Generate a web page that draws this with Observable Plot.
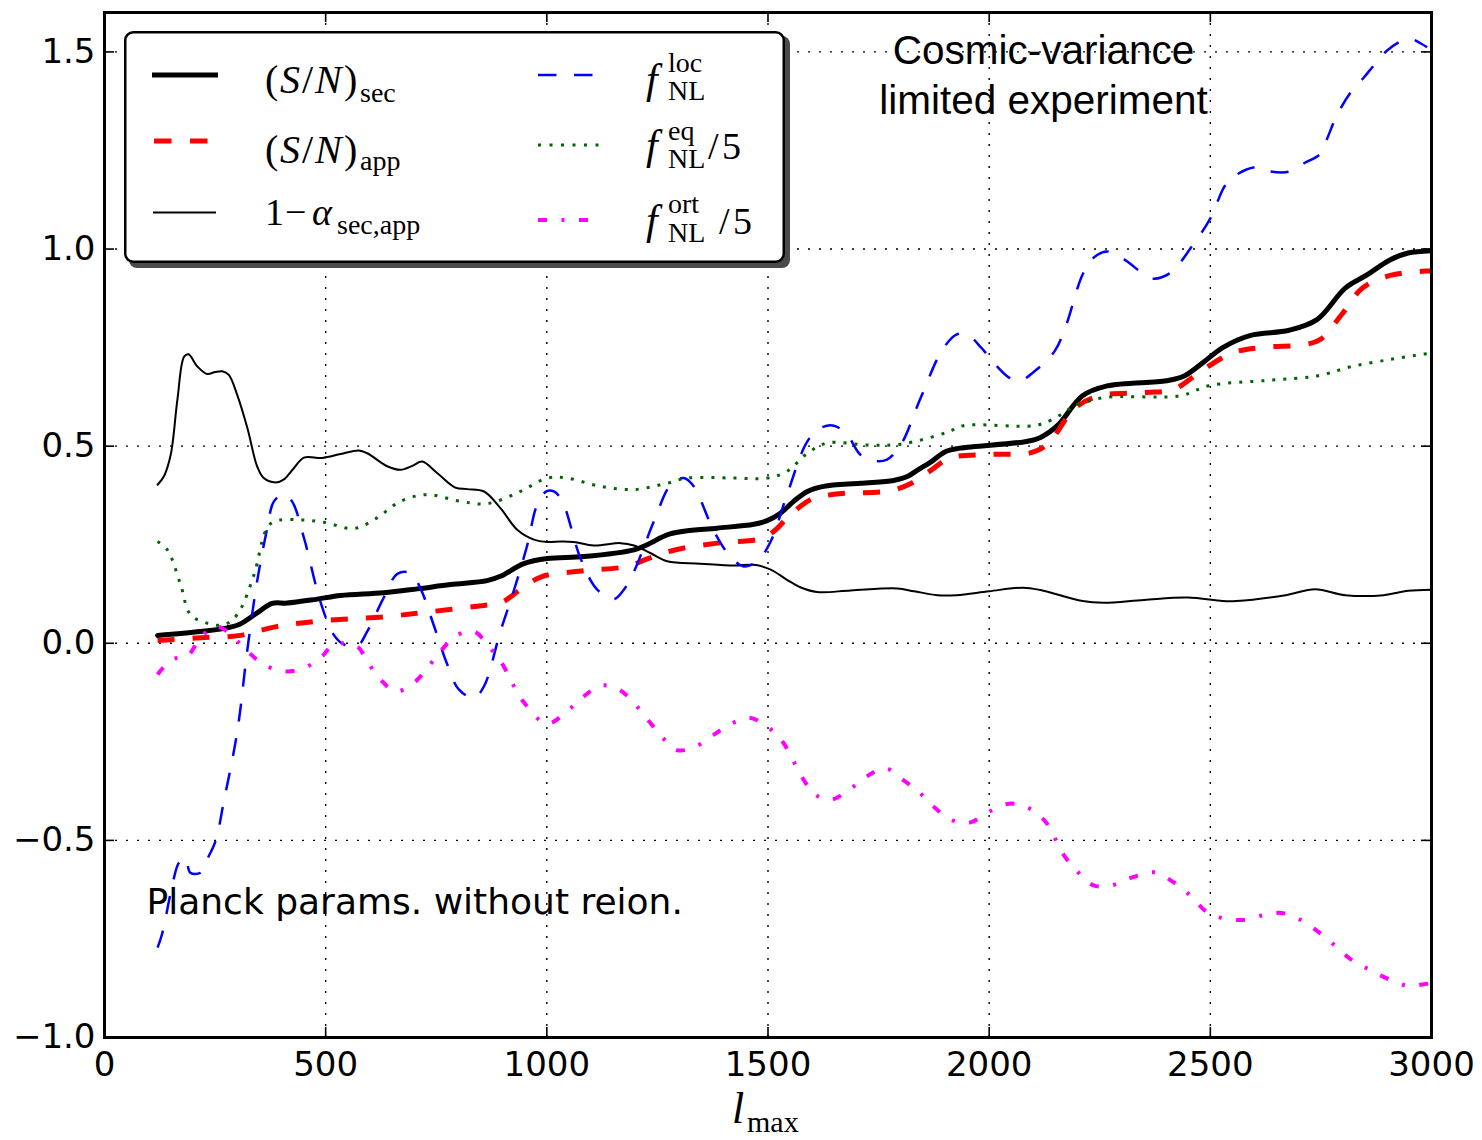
<!DOCTYPE html>
<html>
<head>
<meta charset="utf-8">
<script src="https://cdn.jsdelivr.net/npm/d3@7"></script>
<script src="https://cdn.jsdelivr.net/npm/@observablehq/plot@0.6"></script>
<style>
  body { margin: 0; background: #fff; }
  #wrap { position: relative; width: 1482px; height: 1140px; overflow: hidden; background: #fff; }
  #overlay { position: absolute; left: 0; top: 0; pointer-events: none; }
  .serif { font-family: "Liberation Serif", "DejaVu Serif", serif; }
</style>
</head>
<body>
<div id="wrap"></div>
<script>
// ---------- data ----------
const xTicks = [0, 500, 1000, 1500, 2000, 2500, 3000];
const yTicks = [-1.0, -0.5, 0.0, 0.5, 1.0, 1.5];

// (S/N)_sec  (thick black)
const lSec = [120,217,277,307,345,379,413,481,534,631,707,782,865,895,948,1001,1084,1197,1227,1272,1310,1385,1468,1498,1528,1558,1589,1626,1709,1784,1815,1839,1867,1903,1934,2085,2116,2156,2211,2267,2401,2441,2488,2528,2591,2678,2741,2805,2852,2907,2947,3000];
const snSec = [0.020,0.030,0.039,0.049,0.077,0.101,0.102,0.112,0.121,0.128,0.138,0.149,0.159,0.170,0.202,0.215,0.220,0.237,0.250,0.275,0.284,0.292,0.302,0.311,0.330,0.360,0.385,0.398,0.406,0.413,0.423,0.440,0.459,0.487,0.495,0.512,0.522,0.554,0.628,0.653,0.666,0.678,0.716,0.750,0.781,0.794,0.821,0.901,0.933,0.973,0.990,0.996];

// (S/N)_app  (red dashed)
const lApp = [120,217,307,383,481,631,744,858,895,940,986,1084,1182,1227,1287,1385,1483,1513,1551,1596,1649,1777,1824,1870,1911,1998,2093,2132,2195,2251,2354,2417,2480,2551,2623,2710,2749,2797,2844,2907,2987,3000];
const snApp = [0.007,0.014,0.020,0.041,0.056,0.067,0.081,0.096,0.102,0.136,0.168,0.184,0.195,0.214,0.236,0.254,0.265,0.284,0.326,0.364,0.378,0.387,0.406,0.440,0.470,0.479,0.483,0.505,0.598,0.628,0.636,0.644,0.691,0.737,0.751,0.757,0.771,0.834,0.901,0.933,0.944,0.944];

// 1 - alpha_{sec,app}  (thin black)
const lAlpha = [120,135,150,165,180,190,210,232,250,266,281,300,323,345,360,387,405,428,451,492,534,575,594,639,669,696,718,752,793,820,858,895,933,971,1001,1031,1061,1106,1167,1197,1234,1272,1347,1423,1468,1506,1543,1573,1611,1687,1792,1830,1883,1926,2000,2077,2116,2211,2259,2350,2449,2528,2559,2670,2737,2805,2892,2947,3000];
const oneMinusAlpha = [0.402,0.425,0.480,0.620,0.727,0.733,0.702,0.683,0.688,0.690,0.681,0.630,0.546,0.449,0.419,0.408,0.415,0.444,0.471,0.470,0.480,0.489,0.482,0.449,0.440,0.450,0.461,0.432,0.395,0.391,0.385,0.343,0.288,0.263,0.257,0.258,0.257,0.248,0.254,0.248,0.229,0.208,0.202,0.197,0.199,0.187,0.161,0.142,0.130,0.134,0.139,0.132,0.122,0.122,0.132,0.141,0.135,0.107,0.103,0.110,0.116,0.107,0.107,0.122,0.137,0.122,0.122,0.133,0.136];

// f_NL^loc  (blue dashed)
const lLoc = [120,130,157,168,183,194,217,232,251,270,300,323,345,368,383,405,424,451,488,518,541,571,594,631,662,692,714,744,775,801,835,858,895,925,956,978,1000,1016,1035,1076,1114,1151,1174,1197,1242,1280,1310,1332,1378,1415,1445,1476,1506,1543,1589,1619,1649,1679,1709,1739,1769,1800,1845,1894,1926,1950,1982,2013,2045,2069,2108,2148,2172,2211,2235,2267,2306,2346,2369,2409,2456,2500,2534,2560,2606,2636,2677,2711,2749,2764,2786,2817,2847,2869,2899,2937,2956,2975,2990];
const fLoc = [-0.772,-0.738,-0.595,-0.557,-0.544,-0.582,-0.582,-0.548,-0.502,-0.400,-0.225,-0.016,0.157,0.292,0.360,0.378,0.360,0.267,0.106,0.022,-0.003,-0.008,0.030,0.115,0.176,0.178,0.140,0.047,-0.054,-0.117,-0.139,-0.109,0.030,0.132,0.250,0.351,0.386,0.385,0.360,0.216,0.136,0.112,0.136,0.182,0.309,0.402,0.419,0.398,0.284,0.220,0.195,0.208,0.258,0.377,0.512,0.546,0.552,0.529,0.478,0.463,0.466,0.503,0.622,0.744,0.783,0.783,0.750,0.708,0.674,0.666,0.695,0.741,0.800,0.935,0.977,0.994,0.973,0.939,0.925,0.939,1.003,1.078,1.162,1.189,1.208,1.197,1.196,1.217,1.242,1.280,1.339,1.397,1.435,1.465,1.503,1.530,1.532,1.522,1.512];

// f_NL^eq / 5  (green dotted)
const lEq = [120,142,172,194,232,270,300,338,364,383,443,496,564,616,669,730,805,865,940,1001,1046,1121,1197,1272,1317,1423,1498,1543,1589,1634,1724,1800,1905,1942,2100,2140,2195,2259,2433,2496,2631,2741,2820,2907,2979,3000];
const fEq5 = [0.258,0.237,0.149,0.073,0.051,0.047,0.073,0.174,0.284,0.309,0.313,0.307,0.291,0.318,0.360,0.377,0.360,0.354,0.385,0.419,0.419,0.398,0.390,0.406,0.419,0.419,0.419,0.436,0.482,0.508,0.503,0.505,0.535,0.552,0.552,0.566,0.602,0.623,0.628,0.653,0.667,0.678,0.702,0.720,0.733,0.736];

// f_NL^ort / 5  (magenta dash-dot)
const lOrt = [120,153,187,217,251,277,323,360,405,451,492,518,571,594,624,658,699,733,763,793,835,869,898,945,1000,1048,1082,1123,1164,1198,1232,1260,1294,1335,1376,1417,1458,1499,1533,1581,1608,1642,1683,1724,1765,1806,1840,1874,1915,1956,1997,2045,2086,2127,2168,2202,2236,2277,2325,2373,2414,2455,2489,2523,2571,2619,2660,2701,2742,2783,2817,2858,2899,2947,2988,3000];
const fOrt5 = [-0.079,-0.041,-0.033,0.014,0.043,0.030,-0.020,-0.054,-0.071,-0.063,-0.033,-0.003,-0.008,-0.046,-0.092,-0.122,-0.101,-0.058,-0.016,0.018,0.030,-0.008,-0.050,-0.145,-0.204,-0.170,-0.136,-0.107,-0.118,-0.153,-0.199,-0.237,-0.271,-0.263,-0.233,-0.204,-0.189,-0.212,-0.250,-0.347,-0.385,-0.397,-0.372,-0.337,-0.317,-0.347,-0.376,-0.414,-0.448,-0.455,-0.429,-0.407,-0.416,-0.452,-0.536,-0.582,-0.614,-0.614,-0.593,-0.581,-0.604,-0.640,-0.679,-0.696,-0.702,-0.690,-0.684,-0.700,-0.730,-0.768,-0.801,-0.827,-0.850,-0.869,-0.864,-0.862];

const annotTop = ["Cosmic-variance\nlimited experiment"];
const annotBottom = ["Planck params. without reion."];

// ---------- chart ----------
const W = 1482, H = 1140;
const mL = 104, mR = 51, mT = 12, mB = 103;
const fw = W - mL - mR, fh = H - mT - mB;

const rows = (xs, ys) => xs.map((x, i) => ({x, y: ys[i]}));
const curve = "catmull-rom";

const chart = Plot.plot({
  width: W, height: H,
  marginLeft: mL, marginRight: mR, marginTop: mT, marginBottom: mB,
  style: {background: "#fff", fontFamily: "DejaVu Sans, sans-serif", fontSize: "34px", color: "#000"},
  x: {domain: [0, 3000], ticks: xTicks, tickFormat: d3.format("d")},
  y: {domain: [-1, 1.6], ticks: yTicks, tickFormat: d3.format(".1f")},
  marks: [
    Plot.gridX(xTicks, {stroke: "#000", strokeOpacity: 1, strokeWidth: 1.4, strokeDasharray: "2,9"}),
    Plot.gridY(yTicks, {stroke: "#000", strokeOpacity: 1, strokeWidth: 1.4, strokeDasharray: "2,9"}),
    Plot.axisX(xTicks, {tickSize: 0, tickPadding: 14, fontSize: 34, label: null, tickFormat: d3.format("d")}),
    Plot.axisY(yTicks, {tickSize: 0, tickPadding: 9, fontSize: 34, label: null, tickFormat: d3.format(".1f")}),
    // inward ticks on all four sides
    Plot.tickY(yTicks, {y: d => d, stroke: "#000", strokeWidth: 1.6, insetRight: fw - 10}),
    Plot.tickY(yTicks, {y: d => d, stroke: "#000", strokeWidth: 1.6, insetLeft: fw - 10}),
    Plot.tickX(xTicks, {x: d => d, stroke: "#000", strokeWidth: 1.6, insetTop: fh - 10}),
    Plot.tickX(xTicks, {x: d => d, stroke: "#000", strokeWidth: 1.6, insetBottom: fh - 10}),
    // series
    Plot.line(rows(lSec, snSec), {x: "x", y: "y", stroke: "#000", strokeWidth: 5, curve, clip: true}),
    Plot.line(rows(lApp, snApp), {x: "x", y: "y", stroke: "#ff0000", strokeWidth: 5, strokeDasharray: "17,18", strokeLinecap: "butt", curve, clip: true}),
    Plot.line(rows(lAlpha, oneMinusAlpha), {x: "x", y: "y", stroke: "#000", strokeWidth: 2, curve, clip: true}),
    Plot.line(rows(lLoc, fLoc), {x: "x", y: "y", stroke: "#0000ff", strokeWidth: 2.5, strokeDasharray: "18,17", strokeLinecap: "butt", curve, clip: true}),
    Plot.line(rows(lEq, fEq5), {x: "x", y: "y", stroke: "#006400", strokeWidth: 3, strokeDasharray: "3,8", strokeLinecap: "butt", curve, clip: true}),
    Plot.line(rows(lOrt, fOrt5), {x: "x", y: "y", stroke: "#ff00ff", strokeWidth: 4, strokeDasharray: "9,14.5,3,14.5", strokeLinecap: "butt", curve, clip: true}),
    // annotations
    Plot.text(annotTop, {text: d => d, frameAnchor: "top-right", textAnchor: "middle", lineAnchor: "top", lineHeight: 1.235,
      dx: -388, dy: 16, fontSize: 40.5, fontFamily: "Liberation Sans, Arial, sans-serif", fill: "#000"}),
    Plot.text(annotBottom, {text: d => d, frameAnchor: "bottom-left", textAnchor: "start", lineAnchor: "bottom",
      dx: 42, dy: -124, fontSize: 36, fontFamily: "DejaVu Sans, sans-serif", fill: "#000"}),
    Plot.frame({stroke: "#000", strokeWidth: 3})
  ]
});

const wrap = document.getElementById("wrap");
wrap.appendChild(chart);

// ---------- legend + x label overlay ----------
const ov = d3.select(wrap).append("svg").attr("id", "overlay").attr("width", W).attr("height", H);

// legend box with shadow
ov.append("rect").attr("x", 129).attr("y", 36).attr("width", 661).attr("height", 232).attr("rx", 8).attr("fill", "#4a4a4a");
ov.append("rect").attr("x", 125.25).attr("y", 32.25).attr("width", 658.5).attr("height", 229.5).attr("rx", 8)
  .attr("fill", "#fff").attr("stroke", "#000").attr("stroke-width", 2.5);

const samples = [
  {x1: 152, x2: 218, y: 75, stroke: "#000", w: 5, dash: null},
  {x1: 154, x2: 208, y: 141, stroke: "#ff0000", w: 5, dash: "17.5,18.5"},
  {x1: 153, x2: 216, y: 212.5, stroke: "#000", w: 2, dash: null},
  {x1: 538, x2: 593, y: 75, stroke: "#0000ff", w: 2.5, dash: "18.5,17.5"},
  {x1: 538, x2: 600, y: 145, stroke: "#006400", w: 3, dash: "3,8.5"},
  {x1: 538, x2: 600, y: 220, stroke: "#ff00ff", w: 4, dash: "9,14.5,3,14.5"}
];
for (const s of samples) {
  const l = ov.append("line").attr("x1", s.x1).attr("x2", s.x2).attr("y1", s.y).attr("y2", s.y)
    .attr("stroke", s.stroke).attr("stroke-width", s.w).attr("stroke-linecap", "butt");
  if (s.dash) l.attr("stroke-dasharray", s.dash);
}

function txt(x, y, str, size, italic) {
  ov.append("text").attr("class", "serif").attr("x", x).attr("y", y).attr("font-size", size)
    .attr("font-style", italic ? "italic" : "normal").attr("fill", "#000").text(str);
}
const M = 38, S = 28;
// (S/N)_sub
function sn(base, sub, subBase) {
  txt(265, base, "(", 40, false);
  txt(280, base, "S", 40, true);
  txt(302, base, "/", 40, false);
  txt(315, base, "N", 40, true);
  txt(344, base, ")", 40, false);
  txt(360, subBase, sub, S, false);
}
sn(93, "sec", 102);
sn(163, "app", 170);
// 1 - alpha_{sec,app}
txt(265, 225, "1", M, false);
txt(285, 225, "\u2212", M, false);
txt(312, 225, "\u03B1", M, true);
txt(337, 234, "sec,app", S, false);
// f_NL terms
function fnl(base, sup, supBase, subBase, tail, tailX) {
  txt(646, base, "f", M + 4, true);
  txt(668, supBase, sup, S, false);
  txt(668, subBase, "NL", S, false);
  if (tail) { txt(tailX, base, "/", M, false); txt(tailX + 14, base, "5", M, false); }
}
fnl(93, "loc", 72, 100, false, 0);
fnl(159, "eq", 140, 168, true, 708);
fnl(234, "ort", 213, 242, true, 719);

// x-axis label  l_max
txt(732, 1123, "l", 44, true);
txt(747, 1132, "max", 30, false);
</script>
</body>
</html>
